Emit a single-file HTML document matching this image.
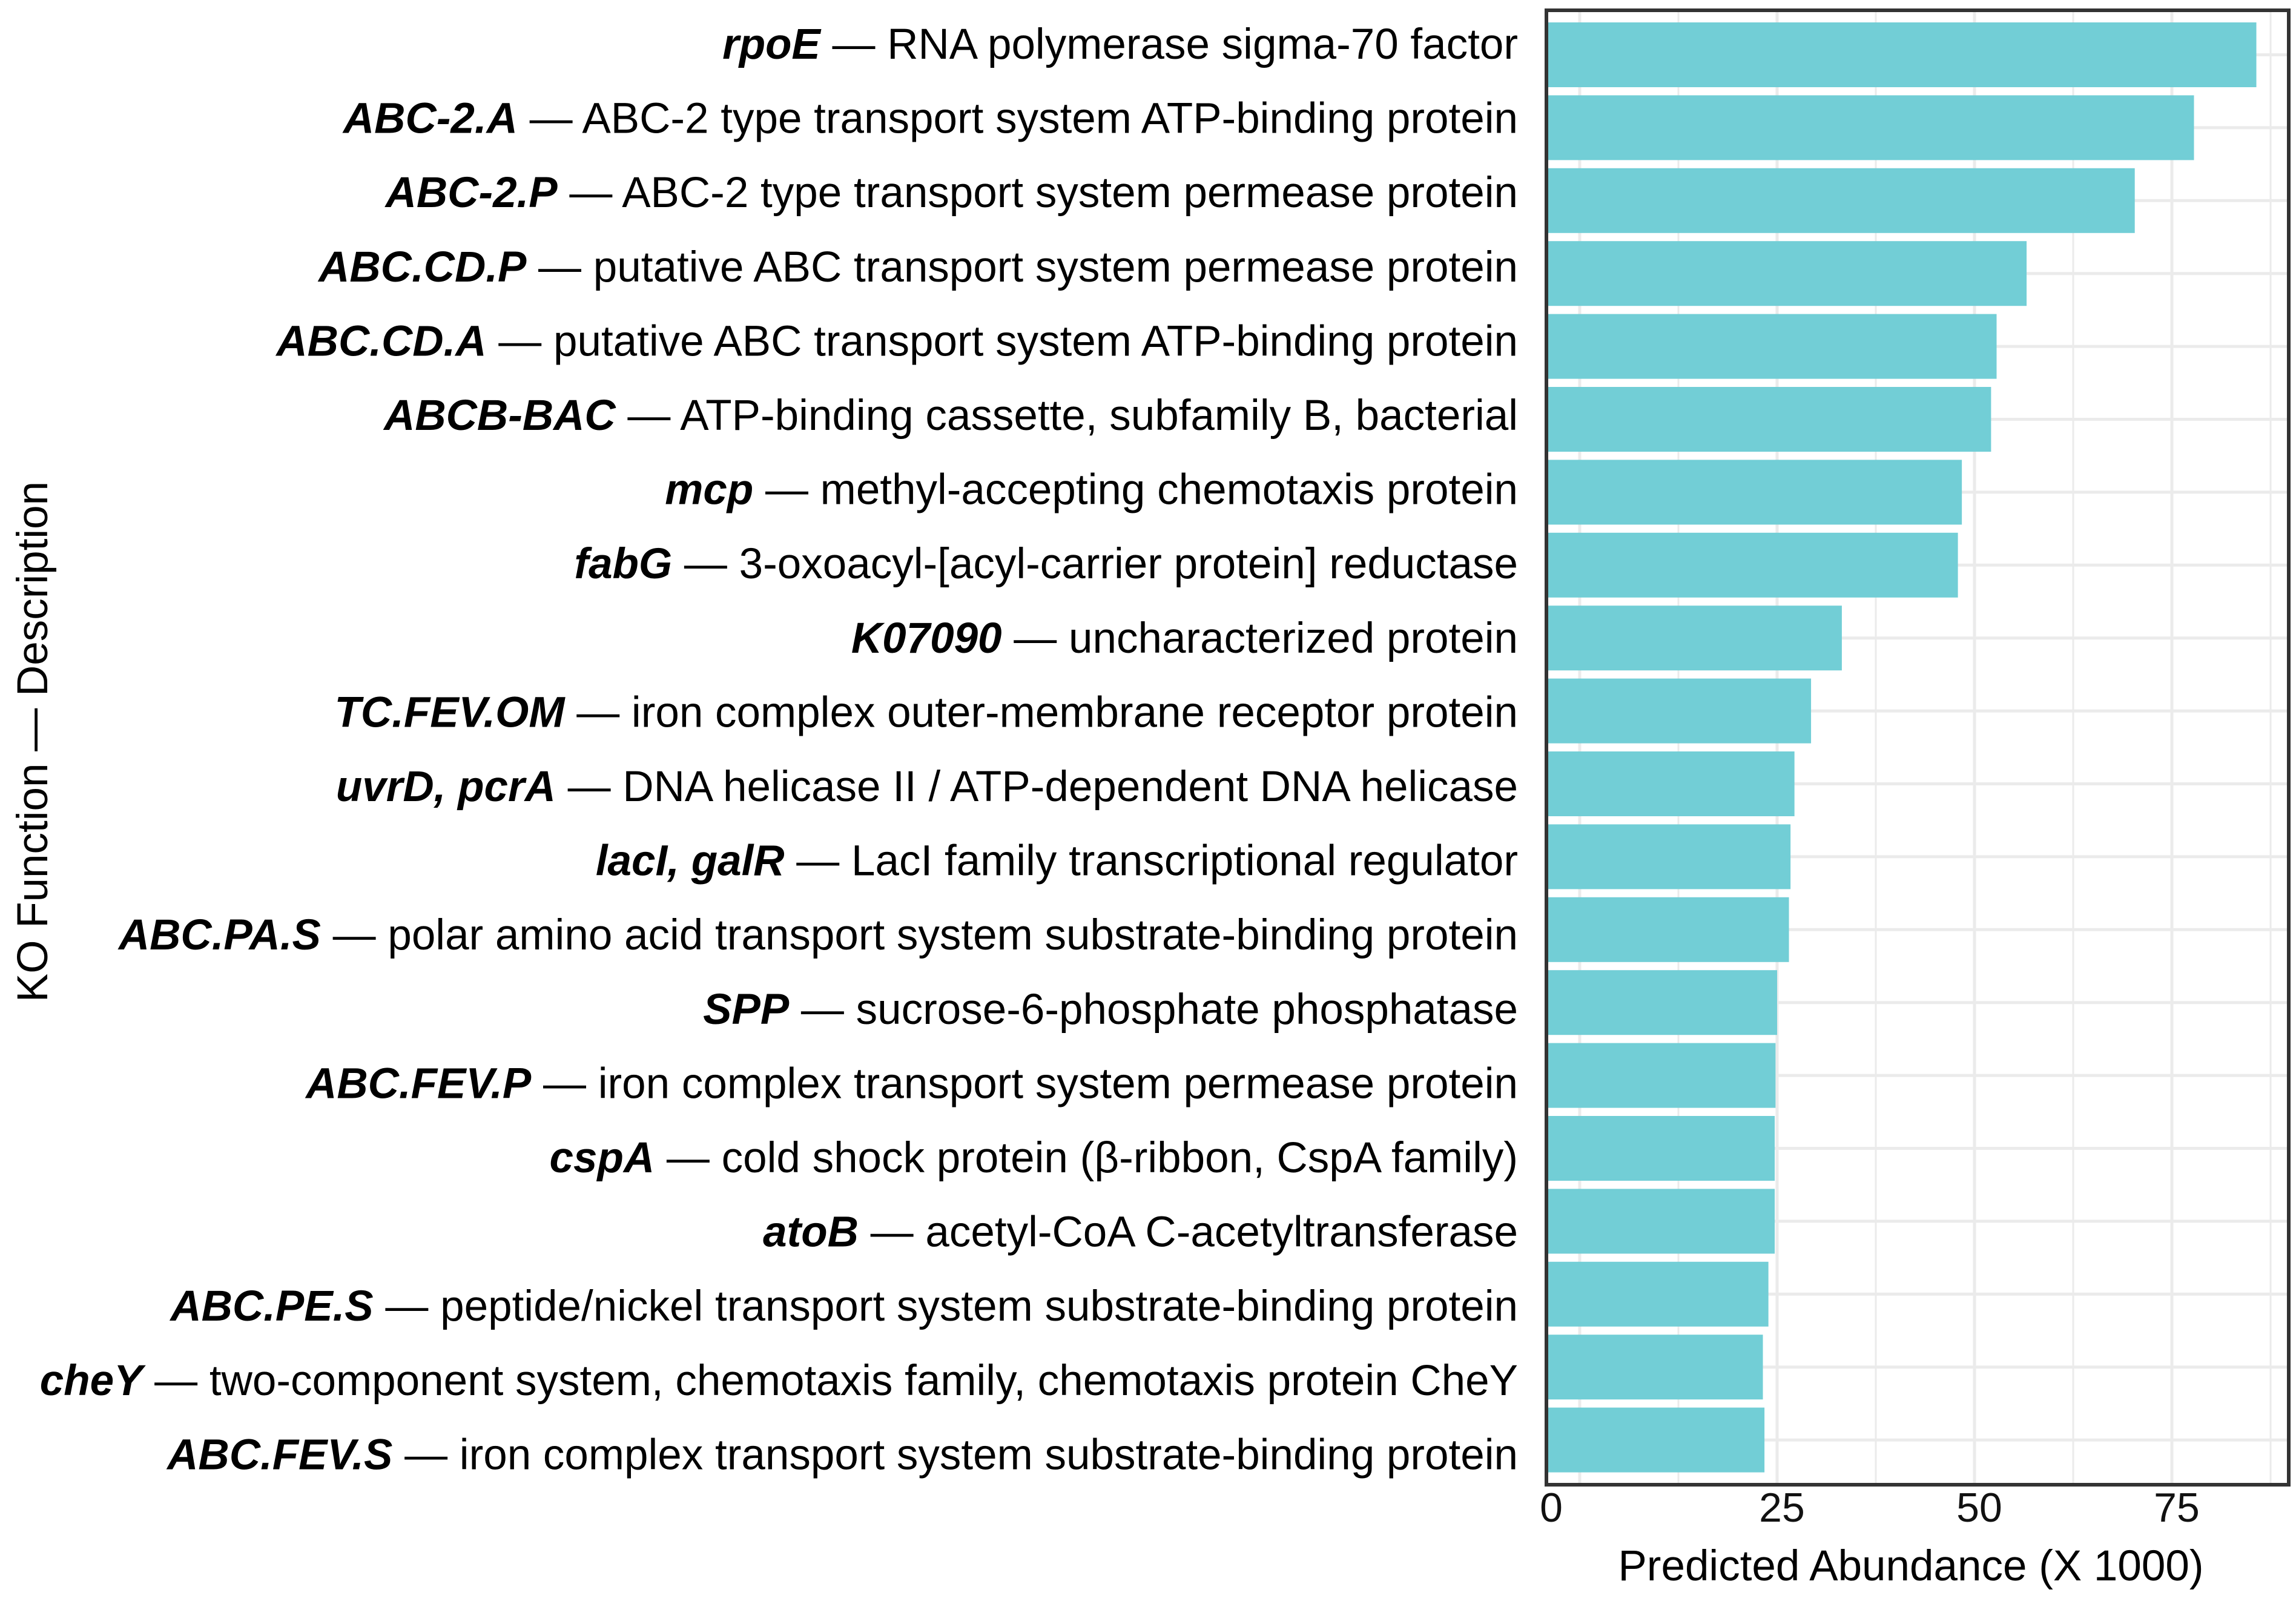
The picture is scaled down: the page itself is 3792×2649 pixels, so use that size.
<!DOCTYPE html>
<html><head><meta charset="utf-8"><style>
html,body{margin:0;padding:0;background:#fff;}
svg{display:block;font-family:"Liberation Sans",Arial,sans-serif;}
</style></head><body>
<svg id="chart" width="3792" height="2649" viewBox="0 0 3792 2649" xmlns="http://www.w3.org/2000/svg">
<rect x="0" y="0" width="3792" height="2649" fill="#fff"/>
<g id="grid"></g>
<g id="bars"></g>
<g id="labels"></g>
<g id="xticks"></g>
<rect x="2554" y="17" width="1226" height="2435" fill="none" stroke="#333" stroke-width="6"/>
<text x="3156" y="2610" font-size="71" text-anchor="middle" fill="#000">Predicted Abundance (X 1000)</text>
<text transform="translate(78,1225) rotate(-90)" font-size="71" text-anchor="middle" fill="#000">KO Function — Description</text>
</svg>
<script>
const codes = ["rpoE","ABC-2.A","ABC-2.P","ABC.CD.P","ABC.CD.A","ABCB-BAC","mcp","fabG","K07090","TC.FEV.OM","uvrD, pcrA","lacI, galR","ABC.PA.S","SPP","ABC.FEV.P","cspA","atoB","ABC.PE.S","cheY","ABC.FEV.S"];
const descriptions = ["RNA polymerase sigma-70 factor","ABC-2 type transport system ATP-binding protein","ABC-2 type transport system permease protein","putative ABC transport system permease protein","putative ABC transport system ATP-binding protein","ATP-binding cassette, subfamily B, bacterial","methyl-accepting chemotaxis protein","3-oxoacyl-[acyl-carrier protein] reductase","uncharacterized protein","iron complex outer-membrane receptor protein","DNA helicase II / ATP-dependent DNA helicase","LacI family transcriptional regulator","polar amino acid transport system substrate-binding protein","sucrose-6-phosphate phosphatase","iron complex transport system permease protein","cold shock protein (β-ribbon, CspA family)","acetyl-CoA C-acetyltransferase","peptide/nickel transport system substrate-binding protein","two-component system, chemotaxis family, chemotaxis protein CheY","iron complex transport system substrate-binding protein"];
const values = [85.7,77.8,70.3,56.6,52.8,52.1,48.4,47.9,33.2,29.3,27.2,26.7,26.5,25.0,24.8,24.7,24.7,23.9,23.2,23.4];
const xTicks = [0,25,50,75];
const xMinor = [12.5,37.5,62.5,87.5];

const NS="http://www.w3.org/2000/svg";
const panelL=2554, panelR=3780, panelT=17, panelB=2452;
const x0=2609, pxPerUnit=13.04;
function xs(v){return x0+v*pxPerUnit;}
const rowTop=37, rowPitch=120.4, barH=107;
function yc(i){return rowTop+barH/2+i*rowPitch;}
function el(t,a){const e=document.createElementNS(NS,t);for(const k in a)e.setAttribute(k,a[k]);return e;}

const grid=document.getElementById('grid');
xMinor.forEach(v=>{const x=xs(v);if(x<panelR){const l=el('line',{x1:x,x2:x,y1:panelT,y2:panelB,stroke:'#ebebeb','stroke-width':3});


grid.appendChild(l);}});
xTicks.forEach(v=>{const x=xs(v);const l=el('line',{x1:x,x2:x,y1:panelT,y2:panelB,stroke:'#ebebeb','stroke-width':5});


grid.appendChild(l);});
values.forEach((v,i)=>{const y=yc(i);const l=el('line',{x1:panelL,x2:panelR,y1:y,y2:y,stroke:'#ebebeb','stroke-width':5});


grid.appendChild(l);});

const bars=document.getElementById('bars');
values.forEach((v,i)=>{const r=el('rect',{x:panelL,y:yc(i)-barH/2,width:Math.max(0,xs(v)-panelL),height:barH,fill:'#72ced6'});


bars.appendChild(r);});

const labels=document.getElementById('labels');
const textTop=72, textPitch=122.6;
codes.forEach((c,i)=>{const t=el('text',{x:2507,y:textTop+i*textPitch+25,'font-size':71,'text-anchor':'end',fill:'#000'});


const a=el('tspan',{'font-weight':'bold','font-style':'italic'});a.textContent=c;
const b=el('tspan',{});b.textContent=' — '+descriptions[i];
t.appendChild(a);t.appendChild(b);labels.appendChild(t);});

const xt=document.getElementById('xticks');
xTicks.forEach((v,i)=>{const x=i===0?2562:xs(v)+8;const t=el('text',{x:x,y:2513,'font-size':68,'text-anchor':'middle',fill:'#111'});


t.textContent=v;xt.appendChild(t);});
</script>
</body></html>
